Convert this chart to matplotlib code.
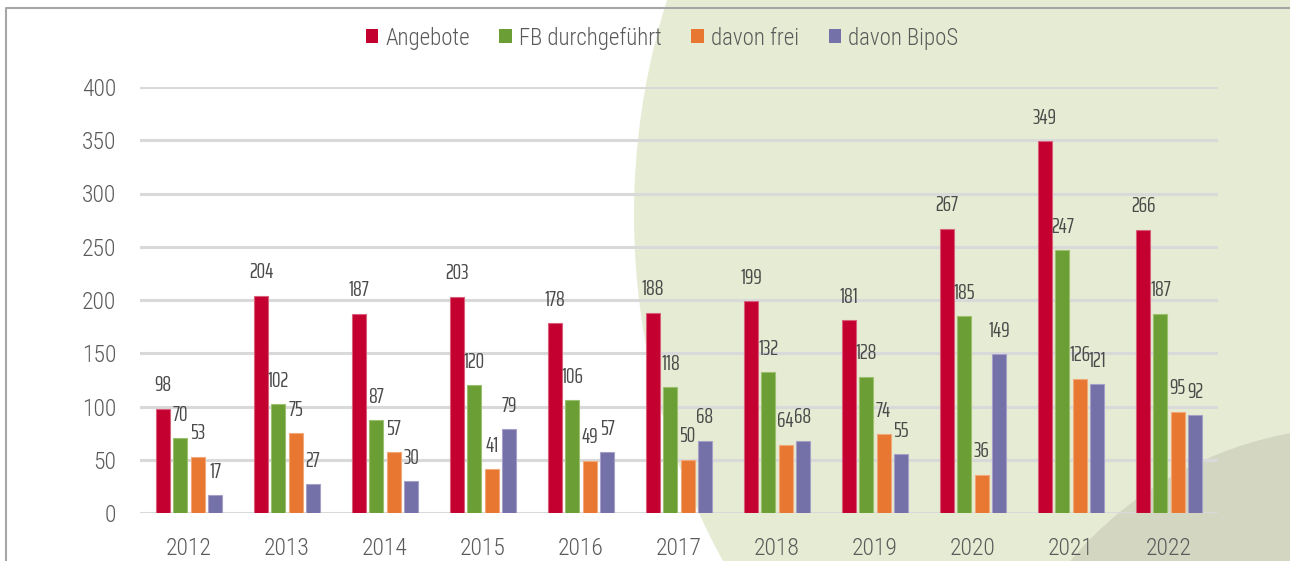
import matplotlib
matplotlib.use("Agg")
import matplotlib.pyplot as plt
import numpy as np
from matplotlib.patches import Circle, Patch
from matplotlib.lines import Line2D

years = ["2012", "2013", "2014", "2015", "2016", "2017", "2018", "2019", "2020", "2021", "2022"]
series_names = ["Angebote", "FB durchgeführt", "davon frei", "davon BipoS"]
angebote = [98, 204, 187, 203, 178, 188, 199, 181, 267, 349, 266]
fb_durchgefuehrt = [70, 102, 87, 120, 106, 118, 132, 128, 185, 247, 187]
davon_frei = [53, 75, 57, 41, 49, 50, 64, 74, 36, 126, 95]
davon_bipos = [17, 27, 30, 79, 57, 68, 68, 55, 149, 121, 92]
yticks = [0, 50, 100, 150, 200, 250, 300, 350, 400]

colors = ["#C3002F", "#6B9E34", "#E87732", "#7470A8"]
edges = ["#D8607A", "#9CC070", "#F2A878", "#A4A0C8"]

main_font = ["Roboto Condensed", "DejaVu Sans"]
label_font = ["Saira ExtraCondensed", "Roboto Condensed", "DejaVu Sans"]
text_color = "#5A5A5A"

W, H = 1290, 561
fig = plt.figure(figsize=(W / 100, H / 100), dpi=100)

# background decoration
bg = fig.add_axes([0, 0, 1, 1], zorder=0)
bg.set_xlim(0, W)
bg.set_ylim(H, 0)
bg.axis("off")
bg.add_patch(Circle((1351, 215), 717, color="#E6ECD3", lw=0))
bg.add_patch(Circle((1358, 803), 376, color="#D3D7C1", lw=0))
bg.add_line(Line2D([6, 6, W], [H, 8, 8], color="#A6A6A6", lw=1.5))

ax = fig.add_axes([140 / W, 1 - 513 / H, (1218 - 140) / W, (513 - 87) / H], zorder=1)
ax.patch.set_alpha(0)
x = np.arange(len(years))
series = [angebote, fb_durchgefuehrt, davon_frei, davon_bipos]
step = 0.177
width = 0.143
for i, (vals, c, e, n) in enumerate(zip(series, colors, edges, series_names)):
    pos = x + (i - 1.5) * step
    ax.bar(pos, vals, width, color=c, edgecolor=e, linewidth=0.8, label=n, zorder=3)
    for p, v in zip(pos, vals):
        ax.annotate(str(v), (p, v), xytext=(0, 12.5), textcoords="offset points",
                    ha="center", va="baseline", fontsize=15.5, color="#4A4A4A",
                    family=label_font, fontweight=400, annotation_clip=False)

ax.set_xlim(-0.5, len(years) - 0.5)
ax.set_ylim(0, 400)
ax.set_yticks(yticks)
ax.set_xticks(x)
ax.set_xticklabels(years)
ax.grid(axis="y", color="#D9D9D9", lw=2.2, zorder=1)
ax.set_axisbelow(True)
for s in ax.spines.values():
    s.set_visible(False)
ax.tick_params(length=0, labelsize=17, labelcolor=text_color, pad=17)
ax.tick_params(axis="x", pad=17)
for lab in ax.get_xticklabels() + ax.get_yticklabels():
    lab.set_family(main_font)
    lab.set_fontweight(300)

handles = [Patch(facecolor=c, edgecolor="none") for c in colors]
fig.legend(handles, series_names, loc="center", bbox_to_anchor=(662 / W, 1 - 38 / H), ncol=4,
           frameon=False, handlelength=0.55, handleheight=0.55, handletextpad=0.3,
           columnspacing=1.3, prop={"family": main_font, "size": 16.5, "weight": 300},
           labelcolor=text_color)

fig.savefig("out.png", dpi=100)
